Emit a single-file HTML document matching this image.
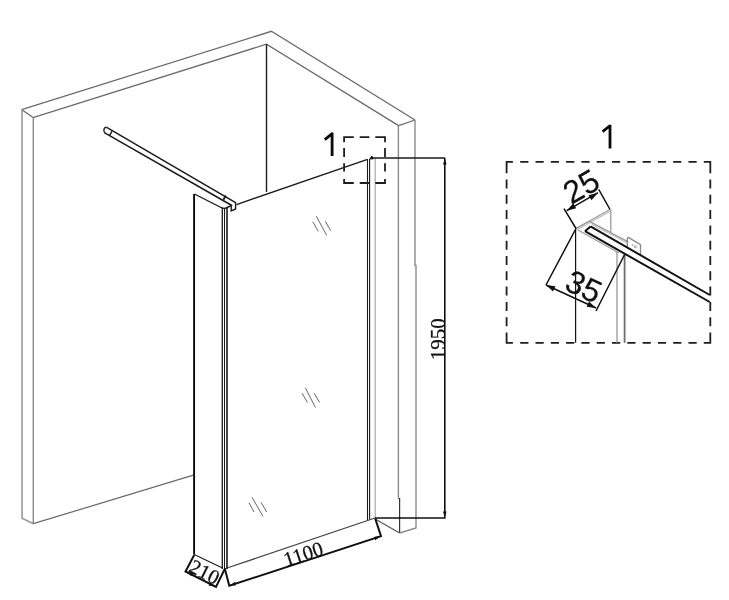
<!DOCTYPE html>
<html><head><meta charset="utf-8">
<style>
html,body{margin:0;padding:0;background:#fff;width:729px;height:600px;overflow:hidden}
svg{display:block;will-change:transform}
.k{stroke:#1a1a1a;stroke-width:1.4;fill:none}
.k2{stroke:#111;stroke-width:2;fill:none}
.w{stroke:#6a6a6a;stroke-width:1.25;fill:none}
.g{stroke:#8a8a8a;stroke-width:1.4;fill:none}
.g2{stroke:#9a9a9a;stroke-width:1.6;fill:none}
.lg{stroke:#b0b0b0;stroke-width:1.3;fill:none}
.h{stroke:#555;stroke-width:0.9;fill:none}
.d{stroke:#1e1e1e;stroke-width:1.8;fill:none}
.gd{stroke:#999;stroke-width:1.3;fill:none}
.kd{stroke:#111;stroke-width:1.5;fill:none}
.fa{fill:#111;stroke:none}
.one{stroke:#0a0a0a;stroke-width:2.8;fill:none}
.serif{font-family:"Liberation Serif",serif;fill:#111;stroke:#111;stroke-width:0.25}
.sans{font-family:"Liberation Sans",sans-serif;fill:#111;stroke:#111;stroke-width:0.2}
</style></head>
<body>
<svg width="729" height="600" viewBox="0 0 729 600">
<g id="walls">
<path class="w" d="M21.6 109.6 L271.4 31.3 L415 120"/>
<path class="w" d="M33 117.6 L266.5 44.2 L398.6 125.6"/>
<path class="w" d="M21.6 109.6 L33 117.6"/>
<path class="g2" d="M22.1 109.6 V518.2 L33.3 523.7"/>
<path class="g" d="M33.3 117.6 V523.7"/>
<path class="w" d="M33.3 523.7 L193.3 475.2"/>
<path class="k" d="M266.5 44.2 V192"/>
<path class="w" d="M398.6 125.6 L415 120"/>
<path class="g" d="M398.4 125.6 V499"/>
<path class="k" style="stroke-width:1.2;stroke:#333" d="M399.6 498 V533"/>
<path class="g" d="M399.6 533 L416 528 V265.5 H415 V120"/>
<path class="k" style="stroke:#555;stroke-width:1.2" d="M375.2 519 L399.6 533"/>
</g>
<g id="main">
<path class="k" d="M236.5 204.6 L367.5 159.3"/>
<path class="k" style="stroke-width:1.1" d="M367.5 159.2 V520.2 M369.6 159 V519.6"/>
<path class="fa" d="M369 159.5 L371.5 155.8 L373.8 157.2 L373.5 159.3 Z"/>
<path class="lg" d="M375.2 158 V518.5"/>
<path class="k" style="stroke:#444;stroke-width:1.3" d="M225.5 568.5 L375 518"/>
</g>
<g id="ret">
<path class="k" style="stroke-width:1.9;stroke:#080808" d="M194.1 194 V554.5"/>
<path class="k" style="stroke-width:1.1" d="M194.2 554.5 L222.5 568"/>
<path class="k" d="M194.5 194 L221 207.5 Q223.5 209 226 208 L232.3 205.2"/>
<path class="k" style="stroke-width:1.3" d="M222.3 207.5 V569"/>
<path class="k" style="stroke-width:1" d="M224.5 208.5 V569"/>
<path class="k" style="stroke-width:1.6" d="M227 208 V569"/>
</g>
<g id="rod">
<path class="k" style="stroke-width:1.5" d="M106.7 127.4 L236 202.8"/>
<path class="k" style="stroke-width:1.5" d="M104.3 132.6 L231 205"/>
<path class="k" d="M106.7 127.4 C104.3 126.4 102.7 130.9 104.8 132.8"/>
<path class="k" d="M111.9 131.4 L109.5 135.6"/>
<path class="k" style="stroke-width:1.8" d="M225.8 195.5 L223.4 199.7"/>
<path class="k" d="M231.2 204.5 V211 L235.6 209 V203"/>
</g>
<g id="hatch">
<path class="h" d="M312.7 221.7 L318.3 231.3 M316.3 216.3 L326.7 235.3 M325.3 221.3 L330.7 230.7"/>
<path class="h" d="M302.1 393.3 L307.5 402.5 M305.4 387.9 L315.4 407.5 M314.2 393.3 L319.6 402.5"/>
<path class="h" d="M249 502.7 L254 512 M252 497.3 L263 516.3 M261 502.3 L266.7 512"/>
</g>
<g id="d1950">
<path class="k" d="M373.5 158 H445"/>
<path class="k2" style="stroke-width:1.6" d="M444.8 158 V518 H375"/>
<path class="fa" d="M444.8 158.5 l-1.8 6 h3.6 z M444.8 517.5 l-1.8 -6 h3.6 z"/>
<text class="serif" font-size="21" transform="translate(444.6 339.3) rotate(-90)" text-anchor="middle">1950</text>
</g>
<g id="d1100">
<path class="k2" d="M224.7 568.3 L229.3 585.8 L381 536.2 L375.2 518.5"/>
<path class="fa" d="M229.6 585.7 l6.5 -0.5 l-1 -3.5 z M380.7 536.3 l-6.5 0.5 l1 3.5 z"/>
<text class="serif" font-size="20.5" transform="translate(305.4 560.6) rotate(-18)" text-anchor="middle">1100</text>
</g>
<g id="d210">
<path class="k2" d="M194.2 555 L185.5 571.5 L216 587 L224.5 569.5"/>
<path class="fa" d="M186 571.7 l5.5 4.6 l1.5 -3.3 z M215.5 586.8 l-5.5 -4.6 l-1.5 3.3 z"/>
<text class="serif" font-size="20.5" transform="translate(201.4 578.1) rotate(27)" text-anchor="middle">210</text>
</g>
<path class="one" d="M332.1 132.6 V156 M332.4 133.4 L324.8 139.6"/>
<path class="d" d="M343.2 137.1 H353.8 M359.7 137.1 H369.4 M375.3 137.1 H385.9 M343.2 183 H353.8 M359.7 183 H369.4 M375.3 183 H385.9 M344.1 137.1 V142.2 M344.1 148.1 V156.9 M344.1 163.3 V171.5 M344.1 178.9 V183.0 M385 137.1 V142.2 M385 148.1 V156.9 M385 163.3 V171.5 M385 178.9 V183.0"/>
<path class="one" d="M610 124.8 V148.4 M610.2 125.5 L602.6 131.6"/>
<path class="d" d="M505.7 161.8 H512.9 M520.2 161.8 H528.4 M535.5 161.8 H543.7 M550.8 161.8 H559.0 M566.1 161.8 H574.3 M581.4 161.8 H589.6 M596.7 161.8 H604.9 M612.0 161.8 H620.2 M627.3 161.8 H635.5 M642.6 161.8 H650.8 M657.9 161.8 H666.1 M673.2 161.8 H681.4 M688.5 161.8 H696.7 M703.8 161.8 H711.2 M505.7 342.8 H512.9 M520.2 342.8 H528.4 M535.5 342.8 H543.7 M550.8 342.8 H559.0 M566.1 342.8 H574.3 M581.4 342.8 H589.6 M596.7 342.8 H604.9 M612.0 342.8 H620.2 M627.3 342.8 H635.5 M642.6 342.8 H650.8 M657.9 342.8 H666.1 M673.2 342.8 H681.4 M688.5 342.8 H696.7 M703.8 342.8 H711.2 M506.6 161.8 V173.2 M506.6 179.5 V188.5 M506.6 194.8 V203.8 M506.6 210.1 V219.1 M506.6 225.4 V234.4 M506.6 240.7 V249.7 M506.6 256.0 V265.0 M506.6 271.3 V280.3 M506.6 286.6 V295.6 M506.6 301.9 V310.9 M506.6 317.2 V326.2 M506.6 332.5 V342.8 M710.3 161.8 V173.2 M710.3 179.5 V188.5 M710.3 194.8 V203.8 M710.3 210.1 V219.1 M710.3 225.4 V234.4 M710.3 240.7 V249.7 M710.3 256.0 V265.0 M710.3 271.3 V280.3 M710.3 286.6 V295.6 M710.3 301.9 V310.9 M710.3 317.2 V326.2 M710.3 332.5 V342.8"/>
<g id="detail">
<path class="k" style="stroke-width:1.2;stroke:#111" d="M575.6 228.5 V342.8"/>
<path class="gd" d="M576 228.5 L610 209.5"/>
<path class="gd" d="M610.8 209.5 V232.5"/>
<path class="gd" style="stroke:#c4c4c4" d="M578 229.2 L610 211.4"/>
<path class="gd" d="M576 228.5 L590.3 220.8 L591.2 222.4 L627.3 241.4"/>
<path class="gd" style="stroke:#c4c4c4" d="M592 224.3 L627.3 242.8"/>
<path class="gd" d="M577.6 229.8 L619 253"/>
<path class="gd" d="M617 252 V342.8"/>
<path class="gd" style="stroke:#6e6e6e;stroke-width:1.8" d="M624.6 254.5 V342.8"/>
<path class="gd" style="stroke:#888" d="M627.3 247.3 V238.6 L628.4 237.4 L640.5 244.6 V254"/>
<path class="gd" style="stroke-width:1" d="M632 246 L633 244 M634.5 247.5 A1 1 0 1 1 634.6 247.6"/>
<path class="k2" d="M590.5 226.4 L709.75 295 M585 231.2 L709.75 302"/>
<path class="k2" d="M585 231.2 L590.5 226.4"/>
<path class="kd" d="M576 228.5 L564 208.7 M610 209.5 L598.7 189.3"/>
<path class="kd" d="M566.7 210.7 L598 192.7"/>
<path class="fa" d="M566.7 210.7 l9.5 -2.5 l-3 -5 z M598 192.7 l-9.5 2.5 l3 5 z"/>
<path class="kd" d="M576 228.5 L546 285 M624.6 254.5 L596 311"/>
<path class="kd" d="M546 285 L596 308"/>
<path class="fa" d="M546 285 l7 6.5 l2.4 -5.2 z M596 308 l-7 -6.5 l-2.4 5.2 z"/>
<text class="sans" font-size="32" transform="translate(586.7 196) rotate(-30)" text-anchor="middle">25</text>
<text class="sans" font-size="32" transform="translate(579.1 296.4) rotate(25)" text-anchor="middle">35</text>
</g>
</svg>
</body></html>
